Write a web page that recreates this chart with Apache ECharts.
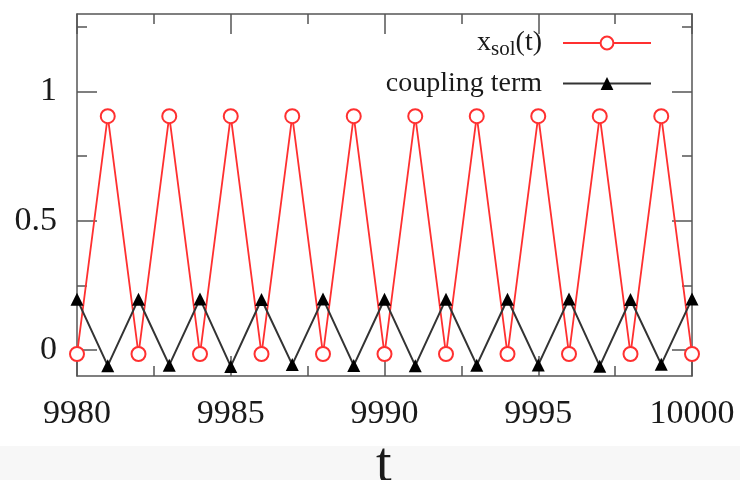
<!DOCTYPE html>
<html>
<head>
<meta charset="utf-8">
<script src="https://cdn.jsdelivr.net/npm/echarts@6/dist/echarts.min.js"></script>
<style>
  html, body { margin: 0; padding: 0; background: #fff; }
  #chart { width: 740px; height: 480px; }
</style>
</head>
<body>
<div id="chart"></div>
<script>
// time steps
const tValues = [9980, 9981, 9982, 9983, 9984, 9985, 9986, 9987, 9988, 9989, 9990,
                 9991, 9992, 9993, 9994, 9995, 9996, 9997, 9998, 9999, 10000];
// x_sol(t)
const xSol = [-0.015, 0.905, -0.015, 0.905, -0.015, 0.905, -0.015, 0.905, -0.015, 0.905, -0.015,
              0.905, -0.015, 0.905, -0.015, 0.905, -0.015, 0.905, -0.015, 0.905, -0.015];
// coupling term
const coupling = [0.197, -0.06, 0.197, -0.058, 0.198, -0.063, 0.196, -0.056, 0.198, -0.059, 0.197,
                  -0.06, 0.197, -0.058, 0.197, -0.057, 0.198, -0.062, 0.196, -0.055, 0.198];

const yMajor = [0, 0.5, 1];
const yMinor = [0.25, 0.75, 1.25];

const FONT = "Liberation Serif";
const AXIS = "#555";
const TEXT = "#1a1a1a";

const chart = echarts.init(document.getElementById("chart"));

const yBase = { type: "value", min: -0.1, max: 1.3, splitLine: { show: false } };
const xBase = {
  type: "value", min: 9980, max: 10000, interval: 5,
  axisLine: { onZero: false, lineStyle: { color: AXIS, width: 1.5 } },
  axisTick: { inside: true, length: 20, lineStyle: { color: AXIS, width: 1.5 } },
  minorTick: { show: true, splitNumber: 2, length: 10, lineStyle: { color: AXIS, width: 1.5 } },
  splitLine: { show: false }
};

chart.setOption({
  animation: false,
  backgroundColor: "#fff",
  grid: { left: 77, right: 48, top: 14, bottom: 104 },
  graphic: [
    { type: "rect", left: 0, top: 446, shape: { width: 740, height: 34 }, style: { fill: "#f7f7f7" }, z: -1 },
    { type: "text", left: 376, top: 438, style: { text: "t", font: "56px " + FONT, fill: TEXT } }
  ],
  legend: {
    orient: "vertical",
    right: 83,
    top: 24,
    align: "right",
    itemWidth: 88,
    itemHeight: 16,
    itemGap: 10,
    textStyle: {
      fontFamily: FONT, fontSize: 28, color: TEXT, padding: [0, 16, 0, 0],
      rich: { sub: { fontFamily: FONT, fontSize: 21, color: TEXT, verticalAlign: "bottom", padding: [12, 0, 0, 0] } }
    },
    formatter: (n) => n === "xsol" ? "x{sub|sol}(t)" : n,
    data: ["xsol", "coupling term"]
  },
  xAxis: [
    Object.assign({}, xBase, {
      position: "bottom",
      axisLabel: { fontFamily: FONT, fontSize: 34, color: TEXT, margin: 21, formatter: (v) => String(v) }
    }),
    Object.assign({}, xBase, {
      position: "top",
      axisLabel: { show: false }
    })
  ],
  yAxis: [
    Object.assign({}, yBase, {
      position: "left",
      axisLine: { show: true, onZero: false, lineStyle: { color: AXIS, width: 1.5 } },
      axisTick: { show: true, inside: true, length: 20, customValues: yMajor, lineStyle: { color: AXIS, width: 1.5 } },
      axisLabel: { customValues: yMajor, fontFamily: FONT, fontSize: 34, color: TEXT, margin: 20 }
    }),
    Object.assign({}, yBase, {
      position: "left",
      axisLine: { show: false, onZero: false },
      axisTick: { show: true, inside: true, length: 10, customValues: yMinor, lineStyle: { color: AXIS, width: 1.5 } },
      axisLabel: { show: false }
    }),
    Object.assign({}, yBase, {
      position: "right",
      axisLine: { show: true, onZero: false, lineStyle: { color: AXIS, width: 1.5 } },
      axisTick: { show: true, inside: true, length: 20, customValues: yMajor, lineStyle: { color: AXIS, width: 1.5 } },
      axisLabel: { show: false }
    }),
    Object.assign({}, yBase, {
      position: "right",
      axisLine: { show: false, onZero: false },
      axisTick: { show: true, inside: true, length: 10, customValues: yMinor, lineStyle: { color: AXIS, width: 1.5 } },
      axisLabel: { show: false }
    })
  ],
  series: [
    {
      name: "xsol",
      type: "line",
      data: tValues.map((t, i) => [t, xSol[i]]),
      clip: false,
      symbol: "emptyCircle",
      symbolSize: 14,
      lineStyle: { color: "#ff3030", width: 1.8 },
      itemStyle: { color: "#ff3030", borderWidth: 1.6 }
    },
    {
      name: "coupling term",
      type: "line",
      data: tValues.map((t, i) => [t, coupling[i]]),
      clip: false,
      symbol: "triangle",
      symbolSize: 13,
      lineStyle: { color: "#333", width: 2 },
      itemStyle: { color: "#000" }
    }
  ]
});
</script>
</body>
</html>
